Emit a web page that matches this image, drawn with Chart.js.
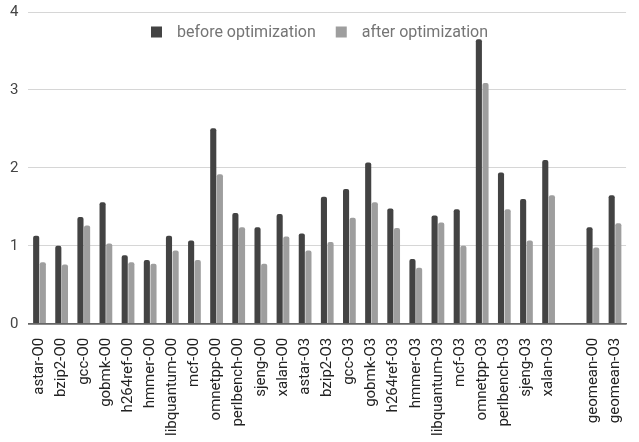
<!DOCTYPE html>
<html>
<head>
<meta charset="utf-8">
<script src="https://cdn.jsdelivr.net/npm/chart.js@4.4.0/dist/chart.umd.min.js"></script>
<style>
  html, body { margin: 0; padding: 0; background: #fff; }
  #wrap { width: 639px; height: 442px; position: relative; }
</style>
</head>
<body>
<div id="wrap"><canvas id="chart"></canvas></div>
<script>
const categories = ['astar-O0', 'bzip2-O0', 'gcc-O0', 'gobmk-O0', 'h264ref-O0', 'hmmer-O0',
    'libquantum-O0', 'mcf-O0', 'omnetpp-O0', 'perlbench-O0', 'sjeng-O0', 'xalan-O0',
    'astar-O3', 'bzip2-O3', 'gcc-O3', 'gobmk-O3', 'h264ref-O3', 'hmmer-O3',
    'libquantum-O3', 'mcf-O3', 'omnetpp-O3', 'perlbench-O3', 'sjeng-O3', 'xalan-O3',
    '', 'geomean-O0', 'geomean-O3'];

const beforeOpt = [1.13, 1.00, 1.37, 1.56, 0.88, 0.82, 1.13, 1.07, 2.51, 1.42, 1.24, 1.41,
    1.16, 1.63, 1.73, 2.07, 1.48, 0.83, 1.39, 1.47, 3.65, 1.94, 1.60, 2.10,
    null, 1.24, 1.65];

const afterOpt = [0.79, 0.76, 1.26, 1.03, 0.79, 0.77, 0.94, 0.82, 1.92, 1.24, 0.77, 1.12,
    0.94, 1.05, 1.36, 1.56, 1.23, 0.72, 1.30, 1.00, 3.09, 1.47, 1.07, 1.65,
    null, 0.98, 1.29];

const yTicks = [0, 1, 2, 3, 4];

// legend drawn inside the plot area, like the original
const innerLegend = {
    id: 'innerLegend',
    afterDraw(chart) {
        const ctx = chart.ctx;
        const items = chart.data.datasets;
        ctx.save();
        ctx.font = '16px Roboto';
        ctx.textBaseline = 'middle';
        const box = 11, gap = 20, boxGap = 15;
        const widths = items.map(d => box + boxGap + ctx.measureText(d.label).width);
        const total = widths.reduce((a, b) => a + b, 0) + gap * (items.length - 1);
        let x = (chart.width - total) / 2;
        const y = 32;
        items.forEach((d, i) => {
            ctx.fillStyle = d.backgroundColor;
            ctx.fillRect(x, y - box / 2, box, box);
            ctx.fillStyle = '#757575';
            ctx.fillText(d.label, x + box + boxGap, y + 1);
            x += widths[i] + gap;
        });
        ctx.restore();
    }
};

const ctx = document.getElementById('chart').getContext('2d');
const chart = new Chart(ctx, {
    type: 'bar',
    data: {
        labels: categories,
        datasets: [{
            label: 'before optimization',
            data: beforeOpt,
            backgroundColor: '#434343',
            borderRadius: { topLeft: 2, topRight: 2 },
            borderSkipped: 'bottom',
            categoryPercentage: 0.6,
            barPercentage: 0.92
        }, {
            label: 'after optimization',
            data: afterOpt,
            backgroundColor: '#9e9e9e',
            borderRadius: { topLeft: 2, topRight: 2 },
            borderSkipped: 'bottom',
            categoryPercentage: 0.6,
            barPercentage: 0.92
        }]
    },
    options: {
        responsive: true,
        maintainAspectRatio: false,
        animation: false,
        layout: {
            padding: { top: 12, left: 0, right: 0, bottom: 0 }
        },
        plugins: {
            legend: { display: false },
            tooltip: { enabled: false }
        },
        scales: {
            y: {
                min: 0,
                max: 4,
                afterBuildTicks: axis => {
                    axis.ticks = yTicks.map(v => ({ value: v }));
                },
                afterFit: axis => {
                    axis.paddingTop = 0;
                },
                border: { display: false },
                grid: {
                    color: c => c.tick.value === 0 ? '#666666' : '#d6d6d6',
                    lineWidth: c => c.tick.value === 0 ? 1.5 : 1,
                    drawTicks: false
                },
                ticks: {
                    color: '#444',
                    font: { family: 'Roboto', size: 15 },
                    padding: 10
                }
            },
            x: {
                border: { color: '#666666', width: 1.5 },
                grid: { display: false },
                ticks: {
                    color: '#222',
                    font: { family: 'Roboto', size: 15 },
                    minRotation: 90,
                    maxRotation: 90,
                    autoSkip: false,
                    padding: 6
                }
            }
        }
    },
    plugins: [innerLegend]
});
</script>
</body>
</html>
